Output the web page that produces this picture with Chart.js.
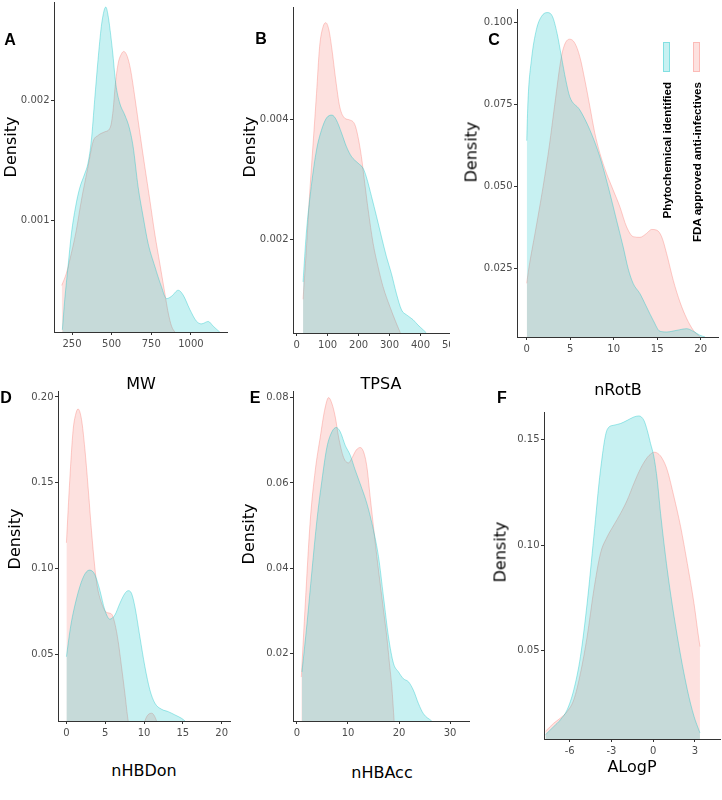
<!DOCTYPE html>
<html>
<head>
<meta charset="utf-8">
<script src="https://cdn.jsdelivr.net/npm/chart.js@4.4.1/dist/chart.umd.min.js"></script>
<style>
  body { margin: 0; background: #fff; }
  #fig { position: relative; width: 722px; height: 800px; overflow: hidden; font-family: "DejaVu Sans", sans-serif; }
  .panel { position: absolute; overflow: hidden; }
  .lbl { position: absolute; transform: translate(-50%, -50%); white-space: nowrap; color: #000; }
  .letter { font-family: "Liberation Sans", sans-serif; font-weight: bold; font-size: 16px; }
  .ttl { font-size: 16px; }
  .ytl { transform: translate(-50%, -50%) rotate(-90deg); }
  .legtxt { position: absolute; font-family: "Liberation Sans", sans-serif; font-weight: bold; font-size: 11.6px;
            line-height: 13px; writing-mode: vertical-rl; transform: rotate(180deg); white-space: nowrap; }
  .legbar { position: absolute; width: 7px; height: 30px; }
</style>
</head>
<body>
<div id="fig"></div>
<script>
const seriesNames = ['Phytochemical identified', 'FDA approved anti-infectives'];

// A - MW
const mwPhytoX = [189, 204, 225, 246, 273, 298, 330, 351, 372, 393, 414, 435, 452, 463, 476, 505, 526, 551, 583, 610, 635, 667, 699, 730, 772, 814, 846, 878, 920, 951, 993, 1036, 1067, 1109, 1141, 1183];
const mwPhytoY = [0.00009, 0.00034, 0.00062, 0.00089, 0.00112, 0.00127, 0.00139, 0.00148, 0.00167, 0.00201, 0.00234, 0.00262, 0.00275, 0.00278, 0.00272, 0.00242, 0.00214, 0.00198, 0.00188, 0.00178, 0.00162, 0.00128, 0.00103, 0.00081, 0.00062, 0.00045, 0.00035, 0.00037, 0.00042, 0.00038, 0.00026, 0.00016, 0.00014, 0.00016, 0.00012, 0.00007];
const mwFdaX = [185, 214, 246, 277, 309, 351, 383, 414, 456, 492, 509, 522, 541, 562, 576, 598, 619, 646, 678, 709, 741, 772, 804, 836, 857, 878, 899];
const mwFdaY = [0.00046, 0.00056, 0.00073, 0.00092, 0.00117, 0.00145, 0.00166, 0.00171, 0.00174, 0.00178, 0.00192, 0.00212, 0.00231, 0.00239, 0.00241, 0.00237, 0.00226, 0.00203, 0.00173, 0.00145, 0.00117, 0.00089, 0.00064, 0.00039, 0.00023, 0.00012, 0.00007];
const mwTicksX = [250, 500, 750, 1000];
const mwTicksY = [0.001, 0.002];

// B - TPSA
const tpsaPhytoX = [20.5, 31, 47, 64, 80, 96, 114, 128, 145, 161, 177, 198, 215, 225, 242, 258, 274, 290, 306, 322, 339, 355, 376, 392, 409, 419];
const tpsaPhytoY = [0.00129, 0.0021, 0.00288, 0.00349, 0.00382, 0.00402, 0.00407, 0.00399, 0.00377, 0.00354, 0.00338, 0.00327, 0.00318, 0.00304, 0.00271, 0.00238, 0.00204, 0.00171, 0.00143, 0.0011, 0.00082, 0.00074, 0.00066, 0.00057, 0.00049, 0.00044];
const tpsaFdaX = [20.5, 33, 42, 53, 64, 74, 85, 94, 104, 114, 126, 139, 155, 171, 188, 198, 209, 220, 231, 247, 263, 279, 301, 322, 335];
const tpsaFdaY = [0.001, 0.00199, 0.00277, 0.0036, 0.00443, 0.00521, 0.00554, 0.00561, 0.00549, 0.00516, 0.00466, 0.00421, 0.00402, 0.00399, 0.00391, 0.00371, 0.00338, 0.00293, 0.00249, 0.00193, 0.00154, 0.00121, 0.00088, 0.0006, 0.00044];
const tpsaTicksX = [0, 100, 200, 300, 400, 500];
const tpsaTicksY = [0.002, 0.004];

// C - nRotB
const rotPhytoX = [0, 0.15, 0.54, 1.11, 1.69, 2.34, 2.96, 3.49, 3.99, 4.49, 4.95, 6.1, 7.26, 8.41, 9.37, 10.33, 11.09, 11.67, 12.25, 13.01, 13.78, 14.55, 15.32, 16.08, 17.24, 18.39, 19.16, 19.92, 20.5];
const rotPhytoY = [0.064, 0.0764, 0.0886, 0.0978, 0.1018, 0.103, 0.1018, 0.0967, 0.0896, 0.0825, 0.0774, 0.0734, 0.0673, 0.0591, 0.05, 0.0398, 0.0317, 0.025, 0.0205, 0.0175, 0.0134, 0.0093, 0.006, 0.0058, 0.0063, 0.0068, 0.006, 0.0048, 0.0043];
const rotFdaX = [0, 0.23, 1.0, 1.88, 2.6, 3.22, 3.99, 4.45, 4.95, 5.53, 6.1, 6.68, 7.26, 7.83, 8.41, 9.17, 9.94, 10.71, 11.48, 12.25, 13.01, 13.78, 14.36, 14.93, 15.51, 16.08, 16.85, 17.62, 18.39, 19.16, 19.92];
const rotFdaY = [0.0206, 0.025, 0.0365, 0.05, 0.0625, 0.075, 0.0896, 0.0938, 0.0949, 0.0937, 0.0896, 0.0825, 0.0744, 0.0663, 0.0602, 0.0541, 0.049, 0.0439, 0.0378, 0.0348, 0.0346, 0.0358, 0.037, 0.0368, 0.0348, 0.0297, 0.0215, 0.0149, 0.0099, 0.0063, 0.0043];
const rotTicksX = [0, 5, 10, 15, 20];
const rotTicksY = [0.025, 0.05, 0.075, 0.1];

// D - nHBDon
const donPhytoX = [0, 0.5, 0.86, 1.72, 2.4, 3.0, 3.66, 4.3, 4.95, 5.59, 6.24, 6.88, 7.53, 7.96, 8.39, 8.82, 9.46, 10.11, 10.75, 11.4, 12.26, 13.12, 13.98, 14.84, 15.27];
const donPhytoY = [0.0486, 0.065, 0.0739, 0.0894, 0.097, 0.0991, 0.0965, 0.0875, 0.0758, 0.0705, 0.0729, 0.0797, 0.0855, 0.0871, 0.0855, 0.0778, 0.0603, 0.0428, 0.0293, 0.0215, 0.018, 0.0166, 0.0147, 0.0127, 0.0112];
const donFdaX = [0, 0.43, 0.86, 1.2, 1.5, 1.94, 2.37, 2.8, 3.23, 3.65, 3.96, 4.52, 5.16, 5.81, 6.24, 6.67, 7.1, 7.53, 7.96, 8.6, 9.6, 10.11, 10.97, 11.61, 12.2];
const donFdaY = [0.115, 0.1515, 0.1806, 0.19, 0.193, 0.187, 0.17, 0.147, 0.122, 0.101, 0.09, 0.08, 0.0745, 0.0735, 0.068, 0.0575, 0.0428, 0.0273, 0.0112, 0, 0, 0.0112, 0.0157, 0.0112, 0];
const donTicksX = [0, 5, 10, 15, 20];
const donTicksY = [0.05, 0.1, 0.15, 0.2];

// E - nHBAcc
const accPhytoX = [0.98, 1.96, 2.94, 3.91, 4.89, 5.87, 6.85, 7.7, 8.48, 9.46, 10.44, 11.42, 12.39, 13.7, 15, 15.98, 16.96, 17.94, 18.92, 19.9, 20.87, 21.85, 22.83, 23.81, 24.79, 26.42];
const accPhytoY = [0.0157, 0.027, 0.0395, 0.0513, 0.0606, 0.0684, 0.072, 0.073, 0.072, 0.0688, 0.0665, 0.063, 0.0598, 0.0552, 0.0489, 0.0427, 0.0333, 0.0239, 0.0177, 0.0157, 0.0141, 0.0134, 0.0114, 0.0083, 0.0059, 0.0042];
const accFdaX = [0.85, 1.63, 2.61, 3.59, 4.57, 5.41, 6.2, 6.85, 7.5, 8.15, 9.13, 10.11, 10.76, 11.61, 12.39, 13.05, 13.7, 14.35, 15, 15.66, 16.31, 16.96, 17.61, 18.13, 18.59, 19.05];
const accFdaY = [0.0145, 0.0317, 0.0513, 0.063, 0.0708, 0.077, 0.08, 0.0786, 0.0755, 0.0708, 0.066, 0.0647, 0.0658, 0.0677, 0.0683, 0.0673, 0.0638, 0.0567, 0.0497, 0.0427, 0.0364, 0.0302, 0.0239, 0.0177, 0.0122, 0.0042];
const accTicksX = [0, 10, 20, 30];
const accTicksY = [0.02, 0.04, 0.06, 0.08];

// F - ALogP
const logpPhytoX = [-7.75, -7.15, -6.67, -6.19, -5.71, -5.23, -4.75, -4.27, -3.79, -3.31, -2.83, -2.35, -1.87, -1.39, -1.03, -0.67, -0.43, -0.19, 0.05, 0.29, 0.53, 1.01, 1.73, 2.45, 2.93, 3.36];
const logpPhytoY = [0.0101, 0.014, 0.0172, 0.0219, 0.0314, 0.0472, 0.0724, 0.1039, 0.1355, 0.1547, 0.1568, 0.1576, 0.1591, 0.1607, 0.1612, 0.1591, 0.1544, 0.1481, 0.1418, 0.1308, 0.115, 0.0883, 0.0568, 0.0315, 0.0189, 0.011];
const logpFdaX = [-7.75, -7.15, -6.67, -6.19, -5.71, -5.23, -4.75, -4.27, -3.79, -3.31, -2.83, -2.35, -1.87, -1.39, -0.91, -0.43, -0.19, 0.05, 0.34, 0.65, 1.01, 1.49, 1.97, 2.45, 2.93, 3.22, 3.36];
const logpFdaY = [0.0117, 0.0156, 0.018, 0.0211, 0.0267, 0.0393, 0.0566, 0.0787, 0.0961, 0.1039, 0.1095, 0.115, 0.1213, 0.1292, 0.1363, 0.1415, 0.1431, 0.144, 0.1434, 0.141, 0.1355, 0.1229, 0.1087, 0.0913, 0.0724, 0.0582, 0.0519];
const logpTicksX = [-6, -3, 0, 3];
const logpTicksY = [0.05, 0.1, 0.15];

const cyanFill = 'rgba(0, 191, 196, 0.22)';
const cyanLine = 'rgba(0, 191, 196, 0.35)';
const redFill = 'rgba(248, 118, 109, 0.22)';
const redLine = 'rgba(248, 118, 109, 0.35)';

const fig = document.getElementById('fig');
const Y_W = 50, X_H = 30, PAD = 12;

function toPoints(xs, ys) {
    return xs.map((x, i) => ({ x: x, y: ys[i] }));
}

function addText(cls, text, x, y) {
    const d = document.createElement('div');
    d.className = 'lbl ' + cls;
    d.textContent = text;
    d.style.left = x + 'px';
    d.style.top = y + 'px';
    fig.appendChild(d);
}

function densityPanel(p) {
    const [left, top, right, bottom] = p.box;
    const w = Y_W + (right - left) + PAD;
    const h = PAD + (bottom - top) + X_H;
    const wrap = document.createElement('div');
    wrap.className = 'panel';
    wrap.style.left = (left - Y_W) + 'px';
    wrap.style.top = (top - PAD) + 'px';
    wrap.style.width = (p.clip ? p.clip - (left - Y_W) : w) + 'px';
    wrap.style.height = h + 'px';
    const cv = document.createElement('canvas');
    cv.width = w; cv.height = h;
    cv.style.width = w + 'px'; cv.style.height = h + 'px';
    wrap.appendChild(cv);
    fig.appendChild(wrap);

    const tickFont = { family: 'DejaVu Sans', size: 10 };
    new Chart(cv.getContext('2d'), {
        type: 'line',
        data: {
            datasets: [{
                label: seriesNames[0],
                data: toPoints(p.phyto[0], p.phyto[1]),
                backgroundColor: cyanFill,
                borderColor: cyanLine,
                borderWidth: 1,
                fill: 'start',
                pointRadius: 0,
                cubicInterpolationMode: 'monotone'
            }, {
                label: seriesNames[1],
                data: toPoints(p.fda[0], p.fda[1]),
                backgroundColor: redFill,
                borderColor: redLine,
                borderWidth: 1,
                fill: 'start',
                pointRadius: 0,
                cubicInterpolationMode: 'monotone'
            }]
        },
        options: {
            responsive: false,
            devicePixelRatio: 1,
            animation: false,
            layout: { padding: { top: PAD, right: PAD, left: 0, bottom: 0 } },
            plugins: { legend: { display: false }, tooltip: { enabled: false } },
            scales: {
                x: {
                    type: 'linear', min: p.xr[0], max: p.xr[1],
                    afterBuildTicks: s => { s.ticks = p.xt.map(v => ({ value: v })); },
                    afterFit: s => { s.height = X_H; },
                    ticks: { callback: v => String(v), color: '#4d4d4d', font: tickFont, padding: 3, maxRotation: 0, autoSkip: false },
                    grid: { drawOnChartArea: false, tickLength: 3, color: '#333' },
                    border: { color: '#333' }
                },
                y: {
                    type: 'linear', min: p.yr[0], max: p.yr[1],
                    afterBuildTicks: s => { s.ticks = p.yt.map(v => ({ value: v })); },
                    afterFit: s => { s.width = Y_W; },
                    ticks: { callback: v => v.toFixed(p.dec), color: '#4d4d4d', font: tickFont, padding: 1.5 },
                    grid: { drawOnChartArea: false, tickLength: 3, color: '#333' },
                    border: { color: '#333' }
                }
            }
        }
    });
}

const panels = [
    { box: [54, 2, 227, 332], xr: [136.3, 1227.5], yr: [0.000072, 0.002822], xt: mwTicksX, yt: mwTicksY, dec: 3, phyto: [mwPhytoX, mwPhytoY], fda: [mwFdaX, mwFdaY] },
    { box: [293, 7, 470, 333], clip: 450, xr: [-12, 560], yr: [0.000438, 0.005872], xt: tpsaTicksX, yt: tpsaTicksY, dec: 3, phyto: [tpsaPhytoX, tpsaPhytoY], fda: [tpsaFdaX, tpsaFdaY] },
    { box: [517, 9, 718, 337], xr: [-1.117, 21.99], yr: [0.00427, 0.10409], xt: rotTicksX, yt: rotTicksY, dec: 3, phyto: [rotPhytoX, rotPhytoY], fda: [rotFdaX, rotFdaY] },
    { box: [58, 391, 230, 721], xr: [-1.084, 21.07], yr: [0.01116, 0.20349], xt: donTicksX, yt: donTicksY, dec: 2, phyto: [donPhytoX, donPhytoY], fda: [donFdaX, donFdaY] },
    { box: [293, 391, 469, 721], xr: [-0.78, 33.72], yr: [0.0042, 0.08155], xt: accTicksX, yt: accTicksY, dec: 2, phyto: [accPhytoX, accPhytoY], fda: [accFdaX, accFdaY] },
    { box: [544, 412, 720, 739], xr: [-7.85, 4.8], yr: [0.0081, 0.16306], xt: logpTicksX, yt: logpTicksY, dec: 2, phyto: [logpPhytoX, logpPhytoY], fda: [logpFdaX, logpFdaY] }
];
panels.forEach(densityPanel);

// panel letters
addText('letter', 'A', 10, 40);
addText('letter', 'B', 261, 39);
addText('letter', 'C', 494, 40);
addText('letter', 'D', 6, 398);
addText('letter', 'E', 255, 398);
addText('letter', 'F', 502, 398);

// axis titles
addText('ttl ytl', 'Density', 10, 147);
addText('ttl ytl', 'Density', 249, 147);
addText('ttl ytl', 'Density', 471, 152);
addText('ttl ytl', 'Density', 14, 539);
addText('ttl ytl', 'Density', 248, 534);
addText('ttl ytl', 'Density', 500, 552);
addText('ttl', 'MW', 141, 383);
addText('ttl', 'TPSA', 381, 383);
addText('ttl', 'nRotB', 618, 389);
addText('ttl', 'nHBDon', 144, 770);
addText('ttl', 'nHBAcc', 382, 772);
addText('ttl', 'ALogP', 632, 766);

// legend
[[cyanFill, cyanLine, 666], [redFill, redLine, 696]].forEach(([f, l, cx], i) => {
    const bar = document.createElement('div');
    bar.className = 'legbar';
    bar.style.left = (cx - 3.5) + 'px';
    bar.style.top = '42px';
    bar.style.background = f;
    bar.style.boxShadow = 'inset 0 0 0 1px ' + l;
    fig.appendChild(bar);
    const t = document.createElement('div');
    t.className = 'legtxt';
    t.textContent = seriesNames[i];
    t.style.left = (cx - 6.5) + 'px';
    t.style.top = '82px';
    fig.appendChild(t);
});
</script>
</body>
</html>
